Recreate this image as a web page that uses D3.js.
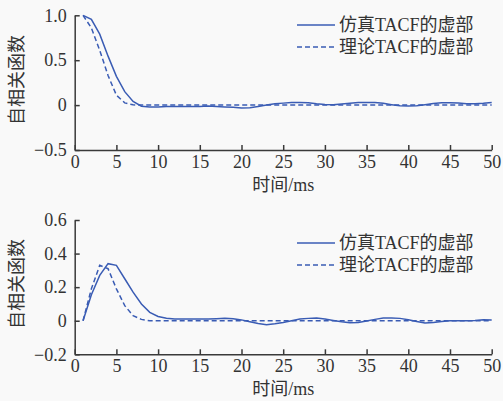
<!DOCTYPE html>
<html>
<head>
<meta charset="utf-8">
<script src="https://cdn.jsdelivr.net/npm/d3@7"></script>
<style>
  html, body { margin: 0; padding: 0; background: #f9f9f9; }
  svg { display: block; }
  text { font-family: "Liberation Serif", "Times New Roman", "Noto Sans CJK SC", serif; fill: #333; }
</style>
</head>
<body>
<svg id="chart" width="503" height="401"></svg>
<script>
// time lags (ms)
const lags = d3.range(1, 51);

// upper panel: imaginary part of the TACF, simulated vs. theoretical
const simTop = [1.0, 0.955, 0.79, 0.545, 0.32, 0.15, 0.04, -0.012, -0.02, -0.02,
  -0.016, -0.015, -0.015, -0.015, -0.015, -0.01, -0.015, -0.02, -0.025, -0.033,
  -0.03, -0.015, 0.0, 0.015, 0.022, 0.028, 0.03, 0.025, 0.015, 0.008,
  0.005, 0.012, 0.02, 0.028, 0.03, 0.028, 0.02, 0.005, -0.008, -0.01,
  -0.006, 0.005, 0.018, 0.025, 0.025, 0.022, 0.015, 0.015, 0.02, 0.03];
const theoTop = [1.0, 0.86, 0.61, 0.33, 0.11, 0.025, 0.003, 0, 0, 0,
  0, 0, 0, 0, 0, 0, 0, 0, 0, 0,
  0, 0, 0, 0, 0, 0, 0, 0, 0, 0,
  0, 0, 0, 0, 0, 0, 0, 0, 0, 0,
  0, 0, 0, 0, 0, 0, 0, 0, 0, 0];

// lower panel
const simBottom = [0.0, 0.155, 0.27, 0.34, 0.33, 0.25, 0.17, 0.10, 0.05, 0.025,
  0.015, 0.01, 0.01, 0.01, 0.01, 0.01, 0.012, 0.014, 0.012, 0.005,
  -0.006, -0.016, -0.024, -0.018, -0.01, 0.0, 0.01, 0.014, 0.016, 0.01,
  0.002, -0.006, -0.012, -0.01, -0.002, 0.008, 0.016, 0.016, 0.014, 0.006,
  -0.004, -0.014, -0.01, -0.004, 0.0, 0.0, 0.0, 0.002, 0.006, 0.004];
const theoBottom = [0.0, 0.19, 0.33, 0.31, 0.19, 0.09, 0.03, 0.008, 0, 0,
  0, 0, 0, 0, 0, 0, 0, 0, 0, 0,
  0, 0, 0, 0, 0, 0, 0, 0, 0, 0,
  0, 0, 0, 0, 0, 0, 0, 0, 0, 0,
  0, 0, 0, 0, 0, 0, 0, 0, 0, 0];

const xTicks = [0, 5, 10, 15, 20, 25, 30, 35, 40, 45, 50];
const yTicksTop = [1.0, 0.5, 0, -0.5];
const yTickLabelsTop = ["1.0", "0.5", "0", "\u22120.5"];
const yTicksBottom = [0.6, 0.4, 0.2, 0, -0.2];
const yTickLabelsBottom = ["0.6", "0.4", "0.2", "0", "\u22120.2"];

const seriesNames = ["仿真TACF的虚部", "理论TACF的虚部"];
const xTitle = "时间/ms";
const yTitle = "自相关函数";

const lineColor = "#3a5cb4";
const axisColor = "#3a3a3a";
const fontSize = 18;

const svg = d3.select("#chart");

function panel(cfg) {
  const x = d3.scaleLinear().domain([0, 50]).range([74.7, 491.7]);
  const y = d3.scaleLinear().domain(cfg.yDomain).range(cfg.yRange);
  const g = svg.append("g");

  const xAxis = d3.axisBottom(x).tickValues(xTicks).tickSizeInner(-5).tickSizeOuter(0).tickPadding(5);
  const gx = g.append("g").attr("transform", `translate(0,${cfg.yRange[0]})`).call(xAxis);

  const yAxis = d3.axisLeft(y).tickValues(cfg.yTicks)
    .tickFormat((d, i) => cfg.yLabels[i]).tickSizeInner(-5).tickSizeOuter(0).tickPadding(8);
  const gy = g.append("g").attr("transform", `translate(${x.range()[0]},0)`).call(yAxis);

  [gx, gy].forEach(a => {
    a.attr("font-family", null).attr("font-size", null);
    a.select(".domain").attr("stroke", axisColor).attr("stroke-width", 1.5);
    a.selectAll(".tick line").attr("stroke", axisColor).attr("stroke-width", 1.5);
    a.selectAll(".tick text").attr("font-size", fontSize).attr("fill", "#333");
  });

  g.append("text")
    .attr("x", (x.range()[0] + x.range()[1]) / 2)
    .attr("y", cfg.yRange[0] + 41)
    .attr("text-anchor", "middle")
    .attr("font-size", fontSize)
    .text(xTitle);

  g.append("text")
    .attr("transform", `translate(23,${cfg.yTitleY}) rotate(-90)`)
    .attr("text-anchor", "middle")
    .attr("font-size", fontSize)
    .text(yTitle);

  const line = d3.line().x((d, i) => x(lags[i])).y(d => y(d));

  g.append("path").datum(cfg.theo)
    .attr("fill", "none").attr("stroke", lineColor).attr("stroke-width", 1.5)
    .attr("stroke-dasharray", "5,3").attr("d", line);
  g.append("path").datum(cfg.sim)
    .attr("fill", "none").attr("stroke", lineColor).attr("stroke-width", 1.5)
    .attr("d", line);

  // legend
  const lg = g.append("g");
  seriesNames.forEach((name, i) => {
    const ly = cfg.legendY + i * 22;
    lg.append("line").attr("x1", 297).attr("x2", 335).attr("y1", ly).attr("y2", ly)
      .attr("stroke", lineColor).attr("stroke-width", 1.5)
      .attr("stroke-dasharray", i === 1 ? "5,3" : null);
    lg.append("text").attr("x", 339).attr("y", ly).attr("dy", "0.35em")
      .attr("font-size", fontSize).text(name);
  });
}

panel({
  yDomain: [-0.5, 1.0], yRange: [150, 15.3],
  yTicks: yTicksTop, yLabels: yTickLabelsTop,
  sim: simTop, theo: theoTop, legendY: 25, yTitleY: 80
});

panel({
  yDomain: [-0.2, 0.6], yRange: [354.3, 220],
  yTicks: yTicksBottom, yLabels: yTickLabelsBottom,
  sim: simBottom, theo: theoBottom, legendY: 243, yTitleY: 284
});
</script>
</body>
</html>
